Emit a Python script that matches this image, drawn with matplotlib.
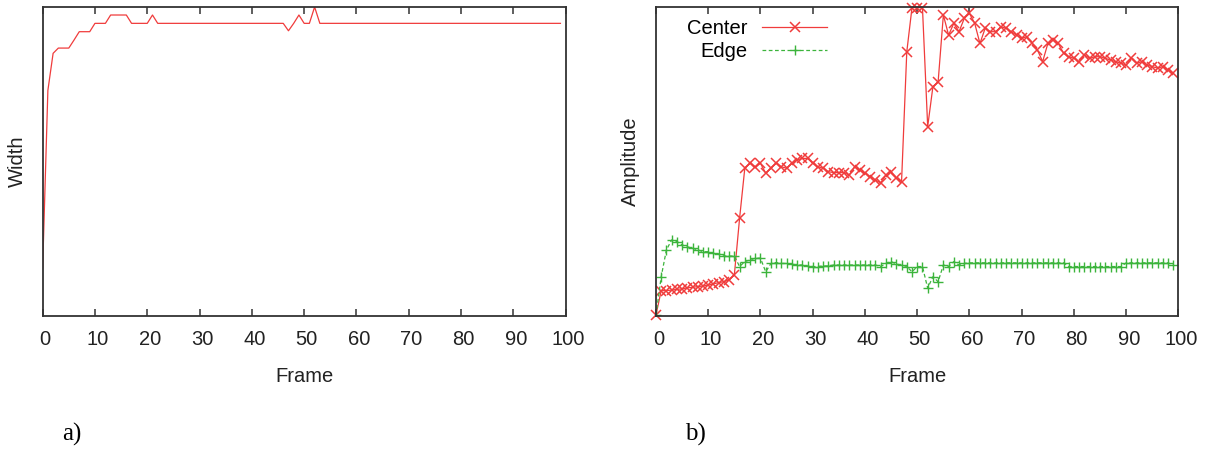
import numpy as np
import matplotlib.pyplot as plt
import matplotlib.transforms as mtransforms

# frame index for both panels
frames = np.arange(100)

# a) width of the tracked object per frame (arbitrary units, axis top = 100)
width = [15.5, 73.0, 85.0, 86.7, 86.7, 86.7, 89.3, 92.0, 92.0, 92.0,
         94.7, 94.7, 94.7, 97.4, 97.4, 97.4, 97.4, 94.7, 94.7, 94.7,
         94.7, 97.4, 94.7, 94.7, 94.7, 94.7, 94.7, 94.7, 94.7, 94.7,
         94.7, 94.7, 94.7, 94.7, 94.7, 94.7, 94.7, 94.7, 94.7, 94.7,
         94.7, 94.7, 94.7, 94.7, 94.7, 94.7, 94.7, 92.3, 94.7, 97.4,
         94.7, 94.7, 100.0, 94.7, 94.7, 94.7, 94.7, 94.7, 94.7, 94.7,
         94.7, 94.7, 94.7, 94.7, 94.7, 94.7, 94.7, 94.7, 94.7, 94.7,
         94.7, 94.7, 94.7, 94.7, 94.7, 94.7, 94.7, 94.7, 94.7, 94.7,
         94.7, 94.7, 94.7, 94.7, 94.7, 94.7, 94.7, 94.7, 94.7, 94.7,
         94.7, 94.7, 94.7, 94.7, 94.7, 94.7, 94.7, 94.7, 94.7, 94.7]

# b) amplitude at the center and at the edge (arbitrary units, axis top = 100)
center = [0.3, 8.2, 8.2, 8.4, 8.6, 8.8, 9.1, 9.3, 9.5, 9.7,
          10.0, 10.4, 10.8, 11.1, 11.7, 13.3, 31.6, 47.8, 49.4, 48.3,
          49.4, 46.2, 47.8, 49.4, 48.3, 47.8, 49.4, 50.5, 51.0, 51.0,
          49.4, 48.3, 47.8, 46.7, 46.4, 46.4, 46.4, 45.6, 48.3, 47.2,
          46.2, 45.1, 44.0, 43.1, 45.6, 46.7, 44.6, 43.5, 85.5, 99.8,
          99.8, 99.8, 61.3, 74.2, 75.8, 97.4, 90.9, 94.7, 92.0, 96.3,
          97.9, 94.7, 88.2, 93.1, 92.0, 92.0, 93.6, 93.1, 92.0, 90.9,
          89.9, 90.4, 88.2, 86.1, 82.3, 88.2, 89.3, 88.2, 85.0, 83.9,
          83.4, 82.3, 84.5, 83.4, 83.9, 83.9, 83.4, 82.8, 82.3, 81.8,
          81.2, 83.4, 81.8, 82.3, 81.2, 80.7, 80.2, 80.7, 79.6, 78.5]

edge = [0.3, 12.7, 21.4, 24.6, 24.1, 23.0, 22.4, 21.9, 21.4, 20.8,
        20.8, 20.3, 20.1, 19.4, 19.4, 19.4, 16.0, 17.6, 18.1, 18.7,
        18.7, 14.3, 17.0, 17.3, 17.0, 17.0, 16.8, 16.5, 16.5, 16.2,
        16.0, 16.0, 16.2, 16.2, 16.5, 16.5, 16.5, 16.5, 16.5, 16.5,
        16.5, 16.5, 16.5, 16.0, 17.0, 17.6, 16.8, 16.5, 16.0, 14.3,
        16.0, 16.0, 9.0, 12.7, 11.1, 16.5, 16.0, 17.6, 16.5, 17.0,
        17.2, 17.2, 17.2, 17.2, 17.2, 17.2, 17.2, 17.2, 17.2, 17.2,
        17.2, 17.2, 17.2, 17.2, 17.2, 17.2, 17.2, 17.2, 17.2, 16.0,
        16.0, 16.0, 16.0, 16.0, 16.0, 16.0, 16.0, 16.0, 16.0, 16.0,
        17.2, 17.2, 17.2, 17.2, 17.2, 17.2, 17.2, 17.2, 17.2, 16.5]

xticks = np.arange(0, 101, 10)

RED = '#f03c3c'
GREEN = '#3cb43c'
FS = 14.5

plt.rcParams['font.family'] = ['Liberation Sans', 'DejaVu Sans']

fig = plt.figure(figsize=(12.22, 4.5), dpi=100)
ax_a = fig.add_axes([0.0349, 0.2978, 0.4280, 0.6867])
ax_b = fig.add_axes([0.5368, 0.2978, 0.4276, 0.6867])

ax_a.plot(frames, width, color=RED, linewidth=0.9)

ax_b.plot(frames, center, color=RED, linewidth=0.9, marker='x',
          markersize=6.5, markeredgewidth=1.1, label='Center', clip_on=False)
ax_b.plot(frames, edge, color=GREEN, linewidth=0.9, linestyle=(0, (3, 2)),
          marker='+', markersize=7, markeredgewidth=1.0, label='Edge')

# gnuplot puts the tick numbers a little right of the tick
shift = mtransforms.ScaledTranslation(2.5 / 100, 0, fig.dpi_scale_trans)

for ax in (ax_a, ax_b):
    ax.set_xlim(0, 100)
    ax.set_ylim(0, 100)
    ax.set_xticks(xticks)
    ax.set_yticks([])
    ax.tick_params(axis='x', direction='in', top=True, length=5, width=1.1,
                   pad=10, labelsize=FS, colors='#333333', labelcolor='#222222')
    for lab in ax.get_xticklabels():
        lab.set_transform(lab.get_transform() + shift)
    for s in ax.spines.values():
        s.set_color('#333333')
        s.set_linewidth(1.3)
    ax.set_xlabel('Frame', fontsize=FS, color='#222222')
    ax.xaxis.set_label_coords(0.5, -0.165)

ax_a.set_ylabel('Width', fontsize=FS, color='#222222')
ax_a.yaxis.set_label_coords(-0.030, 0.5)
ax_b.set_ylabel('Amplitude', fontsize=FS, color='#222222')
ax_b.yaxis.set_label_coords(-0.031, 0.5)

ax_b.legend(loc='upper right', bbox_to_anchor=(0.327, 0.962), frameon=False,
            markerfirst=False, handlelength=3.2, handletextpad=0.75,
            labelspacing=0.22, borderpad=0, borderaxespad=0, fontsize=FS,
            numpoints=1)

fig.text(0.0507, 0.022, 'a)', family='Liberation Serif', fontsize=18)
fig.text(0.5605, 0.022, 'b)', family='Liberation Serif', fontsize=18)

fig.savefig('out.png', dpi=100)
